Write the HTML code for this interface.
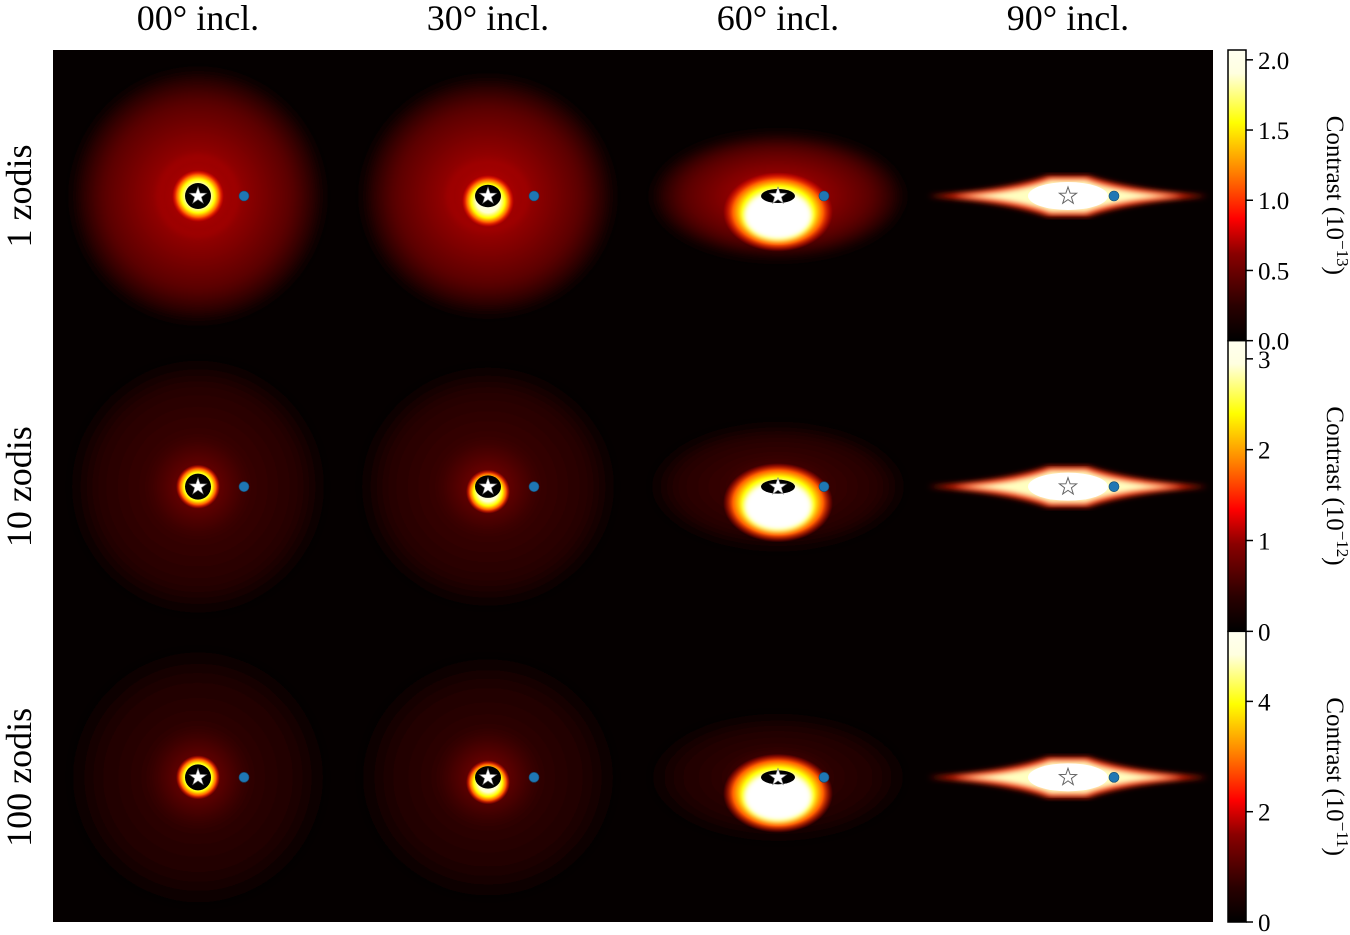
<!DOCTYPE html>
<html><head><meta charset="utf-8"><style>
html,body{margin:0;padding:0;background:#fff;}
svg{display:block;font-family:"Liberation Serif","DejaVu Serif",serif;}
</style></head><body>
<svg id="fig" width="1350" height="935" viewBox="0 0 1350 935" xmlns="http://www.w3.org/2000/svg">
<defs>
<linearGradient id="cmap" x1="0" y1="1" x2="0" y2="0">
<stop offset="0" stop-color="#000"/><stop offset="0.12" stop-color="#2a0000"/><stop offset="0.3" stop-color="#8a0000"/><stop offset="0.42" stop-color="#ff0000"/><stop offset="0.58" stop-color="#ff8000"/><stop offset="0.75" stop-color="#ffff00"/><stop offset="0.92" stop-color="#ffffe0"/><stop offset="1" stop-color="#fffff0"/>
</linearGradient>
<radialGradient id="halo1"><stop offset="0" stop-color="#c00000"/><stop offset="0.4" stop-color="#8a0000"/><stop offset="0.75" stop-color="#5a0000"/><stop offset="1" stop-color="#100000"/></radialGradient>
<radialGradient id="halo2"><stop offset="0" stop-color="#800000"/><stop offset="0.4" stop-color="#360000"/><stop offset="0.8" stop-color="#260000"/><stop offset="1" stop-color="#080000"/></radialGradient>
<radialGradient id="halo3"><stop offset="0" stop-color="#800000"/><stop offset="0.4" stop-color="#2e0000"/><stop offset="0.8" stop-color="#1e0000"/><stop offset="1" stop-color="#060000"/></radialGradient>
<radialGradient id="core"><stop offset="0" stop-color="#fff"/><stop offset="0.45" stop-color="#ffffd0"/><stop offset="0.65" stop-color="#ffff00"/><stop offset="0.82" stop-color="#ff6000"/><stop offset="1" stop-color="#ff0000" stop-opacity="0"/></radialGradient>
<filter id="blur3"><feGaussianBlur stdDeviation="3"/></filter>
<filter id="blur6"><feGaussianBlur stdDeviation="6"/></filter>
</defs>
<rect x="53" y="50" width="1160" height="872" fill="#050000"/>
<g id="panels"></g>
<g id="labels"></g>
<g id="cbars"></g>
</svg>
<script>
const inclinations = ["00", "30", "60", "90"];
const zodis = ["1", "10", "100"];
const cbarMax = [2.07, 3.2, 5.27];
const cbarTicks = [["0.0","0.5","1.0","1.5","2.0"],["0","1","2","3"],["0","2","4"]];
const cbarTickVals = [[0,0.5,1,1.5,2],[0,1,2,3],[0,2,4]];
const cbarExp = ["13","12","11"];

const NS="http://www.w3.org/2000/svg";
const x0=53,y0=50,pw=290,ph=290.67;
function el(tag,attrs,parent){const e=document.createElementNS(NS,tag);for(const k in attrs)e.setAttribute(k,attrs[k]);parent.appendChild(e);return e;}
function starPath(cx,cy,r){let p="";for(let i=0;i<10;i++){const a=-Math.PI/2+i*Math.PI/5;const rr=i%2?r*0.4:r;p+=(i?"L":"M")+(cx+rr*Math.cos(a)).toFixed(1)+","+(cy+rr*Math.sin(a)).toFixed(1);}return p+"Z";}
const panels=document.getElementById('panels');
zodis.forEach((z,ri)=>{
 inclinations.forEach((inc,ci)=>{
  const cx=x0+pw*ci+145, cy=y0+ph*ri+146;
  const g=el('g',{},panels);
  
  
  const cosi=Math.cos(parseFloat(inc)*Math.PI/180);
  const halo='url(#halo'+(ri+1)+')';
  if(inc!=="90"){
   const R=125, ry=inc==="60"?62:(inc==="30"?118:R);
   el('ellipse',{cx:cx,cy:cy,rx:R,ry:ry,fill:halo,filter:'url(#blur6)'},g);
   if(ri===0) el('ellipse',{cx:cx,cy:cy,rx:38,ry:38*cosi,fill:'none',stroke:'#a00000','stroke-width':5,filter:'url(#blur3)'},g);
   const off=inc==="60"?16:(inc==="30"?5:0);
   const cr=inc==="60"?55:(ri===0?26:22);
   el('ellipse',{cx:cx,cy:cy+off,rx:cr,ry:cr*(inc==="60"?0.72:1),fill:'url(#core)'},g);
   if(inc==="60") el('ellipse',{cx:cx,cy:cy+off+4,rx:34,ry:24,fill:'#fff',filter:'url(#blur3)'},g);
   const hr=inc==="60"?10:13;
   el('ellipse',{cx:cx,cy:cy,rx:inc==="60"?17:hr,ry:inc==="60"?7:hr*Math.max(cosi,0.85),fill:'#000'},g);
   el('path',{d:starPath(cx,cy,9),fill:'#fff',stroke:'#777','stroke-width':0.6},g);
  } else {
   el('path',{d:`M${cx-140},${cy} Q${cx-60},${cy-6} ${cx-20},${cy-20} L${cx+20},${cy-20} Q${cx+60},${cy-6} ${cx+140},${cy} Q${cx+60},${cy+6} ${cx+20},${cy+20} L${cx-20},${cy+20} Q${cx-60},${cy+6} ${cx-140},${cy}Z`,fill:'#ff2000',filter:'url(#blur3)'},g);
   el('path',{d:`M${cx-115},${cy} Q${cx-50},${cy-4} ${cx-18},${cy-17} L${cx+18},${cy-17} Q${cx+50},${cy-4} ${cx+115},${cy} Q${cx+50},${cy+4} ${cx+18},${cy+17} L${cx-18},${cy+17} Q${cx-50},${cy+4} ${cx-115},${cy}Z`,fill:'#ffffc0',filter:'url(#blur3)'},g);
   el('ellipse',{cx:cx,cy:cy,rx:40,ry:14,fill:'#fff'},g);
   el('path',{d:starPath(cx,cy,9),fill:'none',stroke:'#666','stroke-width':1},g);
  }
  const p=el('circle',{cx:cx+46,cy:cy,r:5,fill:'#1f77b4',stroke:'#134a70','stroke-width':0.6},g);
  
  
 });
});
const labels=document.getElementById('labels');
inclinations.forEach((inc,ci)=>{
 const t=el('text',{x:x0+pw*ci+145,y:30,'font-size':36,'text-anchor':'middle',fill:'#000'},labels);
 t.textContent=inc+"° incl.";
 
 
});
zodis.forEach((z,ri)=>{
 const cy=y0+ph*ri+146;
 const t=el('text',{x:0,y:0,'font-size':36,'text-anchor':'middle',fill:'#000',transform:`translate(31,${cy}) rotate(-90)`},labels);
 t.textContent=z+" zodis";
 
 
});
const cb=document.getElementById('cbars');
cbarMax.forEach((mx,ri)=>{
 const top=y0+ph*ri, h=ph, bx=1228, bw=18;
 const g=el('g',{},cb);
 
 
 el('rect',{x:bx,y:top,width:bw,height:h,fill:'url(#cmap)',stroke:'#000','stroke-width':1.5},g);
 cbarTickVals[ri].forEach((v,i)=>{
  const y=top+h-(v/mx)*h;
  el('line',{x1:bx+bw,x2:bx+bw+7,y1:y,y2:y,stroke:'#000','stroke-width':1.5},g);
  const t=el('text',{x:bx+bw+12,y:y+9,'font-size':25,fill:'#000'},g);
  t.textContent=cbarTicks[ri][i];
  
  
 });
 const t=el('text',{x:0,y:0,'font-size':25,'text-anchor':'middle',fill:'#000',transform:`translate(1327,${top+h/2}) rotate(90)`},g);
 t.innerHTML='Contrast (10<tspan dy="-10" font-size="17">−'+cbarExp[ri]+'</tspan><tspan dy="10">)</tspan>';
 
 
});
</script>
</body></html>
